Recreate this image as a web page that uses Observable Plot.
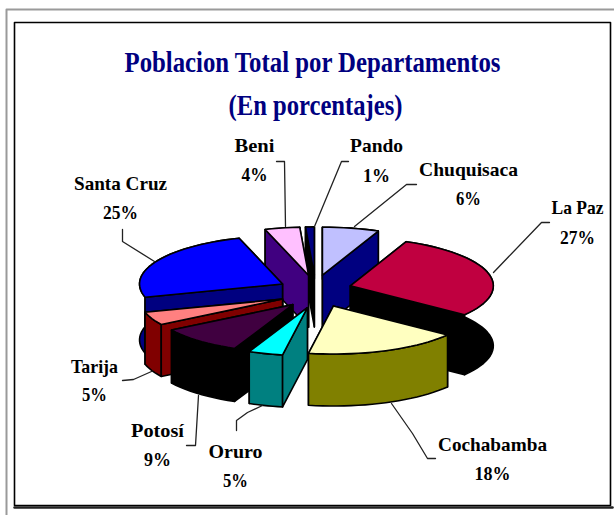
<!DOCTYPE html>
<html>
<head>
<meta charset="utf-8">
<style>html,body{margin:0;padding:0;background:#fff;overflow:hidden}svg{display:block}</style>
<script src="https://cdn.jsdelivr.net/npm/d3@7"></script>
<script src="https://cdn.jsdelivr.net/npm/@observablehq/plot@0.6"></script>
</head>
<body>
<div id="chart"></div>
<script>
// data
const departments = ["Chuquisaca","La Paz","Cochabamba","Oruro","Potosí","Tarija","Santa Cruz","Beni","Pando"];
const percents = [6,27,18,5,9,5,25,4,1];
const titleLines = ["Poblacion Total por Departamentos","(En porcentajes)"];

// styles
const topColors = ["#c0c0ff","#c00040","#ffffc0","#00ffff","#400040","#ff8080","#0000ff","#ffc0ff","#000080"];
const sideColors = ["#000080","#000000","#808000","#008080","#000000","#800000","#000080","#400080","#000000"];

// layout
const W = 614, H = 515;
const pie = {cx:315, cy:291, rx:143, ry:48, explodeX:37, explodeY:16.6};
const sliceDepths = [52,60,52,52,53,52,56,52,52];
// the 3D view of the original bends the sweep a little towards the front of the pie
const view = d3.scaleLinear().domain([0,21.6,118.8,183.6,201.6,234,252,360]).range([0,23,127,190,204,238,254,360]);
const labelCenters = [[468,169,198],[577,207,237],[492,444,473],[235,451,480],[157,430,459],[94,366,394],[120,183,212],[254,145,174],[376,145,175]];
const labelWidths = {"Chuquisaca":99,"La Paz":52,"Cochabamba":109,"Oruro":54,"Potosí":53,"Tarija":47,"Santa Cruz":93,"Beni":40,"Pando":53,
  "6%":25,"27%":35,"18%":36,"5%":25,"9%":27,"25%":35,"4%":26,"1%":27,
  "Poblacion Total por Departamentos":376,"(En porcentajes)":174};
const leaders = [
  [[416,184],[406,184],[354,226]],
  [[549,222],[541,222],[493,272]],
  [[435,458],[427,458],[412,433],[391,403]],
  [[236,430],[236,420],[247,412],[262,405]],
  [[186,445],[195,445],[198,395]],
  [[122,380],[133,379],[151,371]],
  [[122,229],[122,241],[154,261]],
  [[276,161],[284,161],[285,226]],
  [[348,161],[341,161],[314,226]]
];

const rad = d => d * Math.PI / 180;
const total = d3.sum(percents);
let acc = 0;
const slices = departments.map((name,i) => {
  const a0 = acc / total * 360; acc += percents[i];
  const a1 = acc / total * 360;
  const mid = rad((a0 + a1) / 2);
  const ax = pie.cx + pie.explodeX * Math.sin(mid);
  const ay = pie.cy - pie.explodeY * Math.cos(mid);
  const at = a => [ax + pie.rx * Math.sin(rad(view(a))), ay - pie.ry * Math.cos(rad(view(a)))];
  const n = Math.max(2, Math.ceil((a1 - a0) / 3));
  const arc = d3.range(n + 1).map(k => at(a0 + (a1 - a0) * k / n));
  return {name, i, a0, a1, mid, apex:[ax,ay], arc};
});
const poly = (pts, o) => Plot.line(pts, {x:d=>d[0], y:d=>d[1], curve:"linear-closed", stroke:"#000", strokeWidth:1.6, strokeLinejoin:"round", ...o});

const marks = [];
// page frames
const path = (pts, stroke, strokeWidth) => Plot.line(pts, {x:d=>d[0], y:d=>d[1], stroke, strokeWidth});
marks.push(path([[6,515],[6,9],[614,9]], "#9a9a9a", 2));
marks.push(path([[14,505],[14,22],[610,22],[610,505],[14,505]], "#000", 1.6));
marks.push(path([[14,507],[612,507]], "#222", 2.5));

// slices, back to front
slices.slice().sort((a,b) => -Math.cos(a.mid) + Math.cos(b.mid)).forEach(s => {
  const fill = sideColors[s.i];
  const down = p => [p[0], p[1] + sliceDepths[s.i]];
  const first = s.arc[0], last = s.arc[s.arc.length-1];
  const startFace = [s.apex, first, down(first), down(s.apex)];
  const endFace = [s.apex, last, down(last), down(s.apex)];
  const wall = [...s.arc, ...s.arc.slice().reverse().map(down)];
  const startFront = Math.sin(rad(s.a0)) < 0, endFront = Math.sin(rad(s.a1)) > 0;
  if (!startFront) marks.push(poly(startFace,{fill}));
  if (!endFront) marks.push(poly(endFace,{fill}));
  marks.push(poly(wall,{fill}));
  if (startFront) marks.push(poly(startFace,{fill}));
  if (endFront) marks.push(poly(endFace,{fill}));
  marks.push(poly([s.apex, ...s.arc],{fill:topColors[s.i]}));
});

// leader lines
leaders.forEach(l => marks.push(path(l, "#222", 1.3)));

// labels
const labelRows = slices.flatMap((s,i) => [
  {text:s.name, x:labelCenters[i][0], y:labelCenters[i][1]},
  {text:percents[i] + "%", x:labelCenters[i][0], y:labelCenters[i][2]}
]);
marks.push(Plot.text(labelRows, {x:"x", y:"y", text:"text", fontSize:19, fontWeight:"bold", fontFamily:"Liberation Serif", fill:"#000"}));
marks.push(Plot.text(titleLines.map((t,i)=>({t, y:[62,105][i], x:[312,315][i]})), {x:"x", y:"y", text:"t", fontSize:30, fontWeight:"bold", fontFamily:"Liberation Serif", fill:"#000080"}));

const chart = Plot.plot({
  width:W, height:H, margin:0,
  x:{domain:[0,W], range:[0,W], axis:null},
  y:{domain:[0,H], range:[0,H], axis:null},
  style:{background:"#fff"},
  marks
});
chart.querySelectorAll("text").forEach(t => {
  const w = labelWidths[t.textContent];
  if (w) { t.setAttribute("textLength", w); t.setAttribute("lengthAdjust", "spacingAndGlyphs"); }
});
document.getElementById("chart").append(chart);
</script>
</body>
</html>
